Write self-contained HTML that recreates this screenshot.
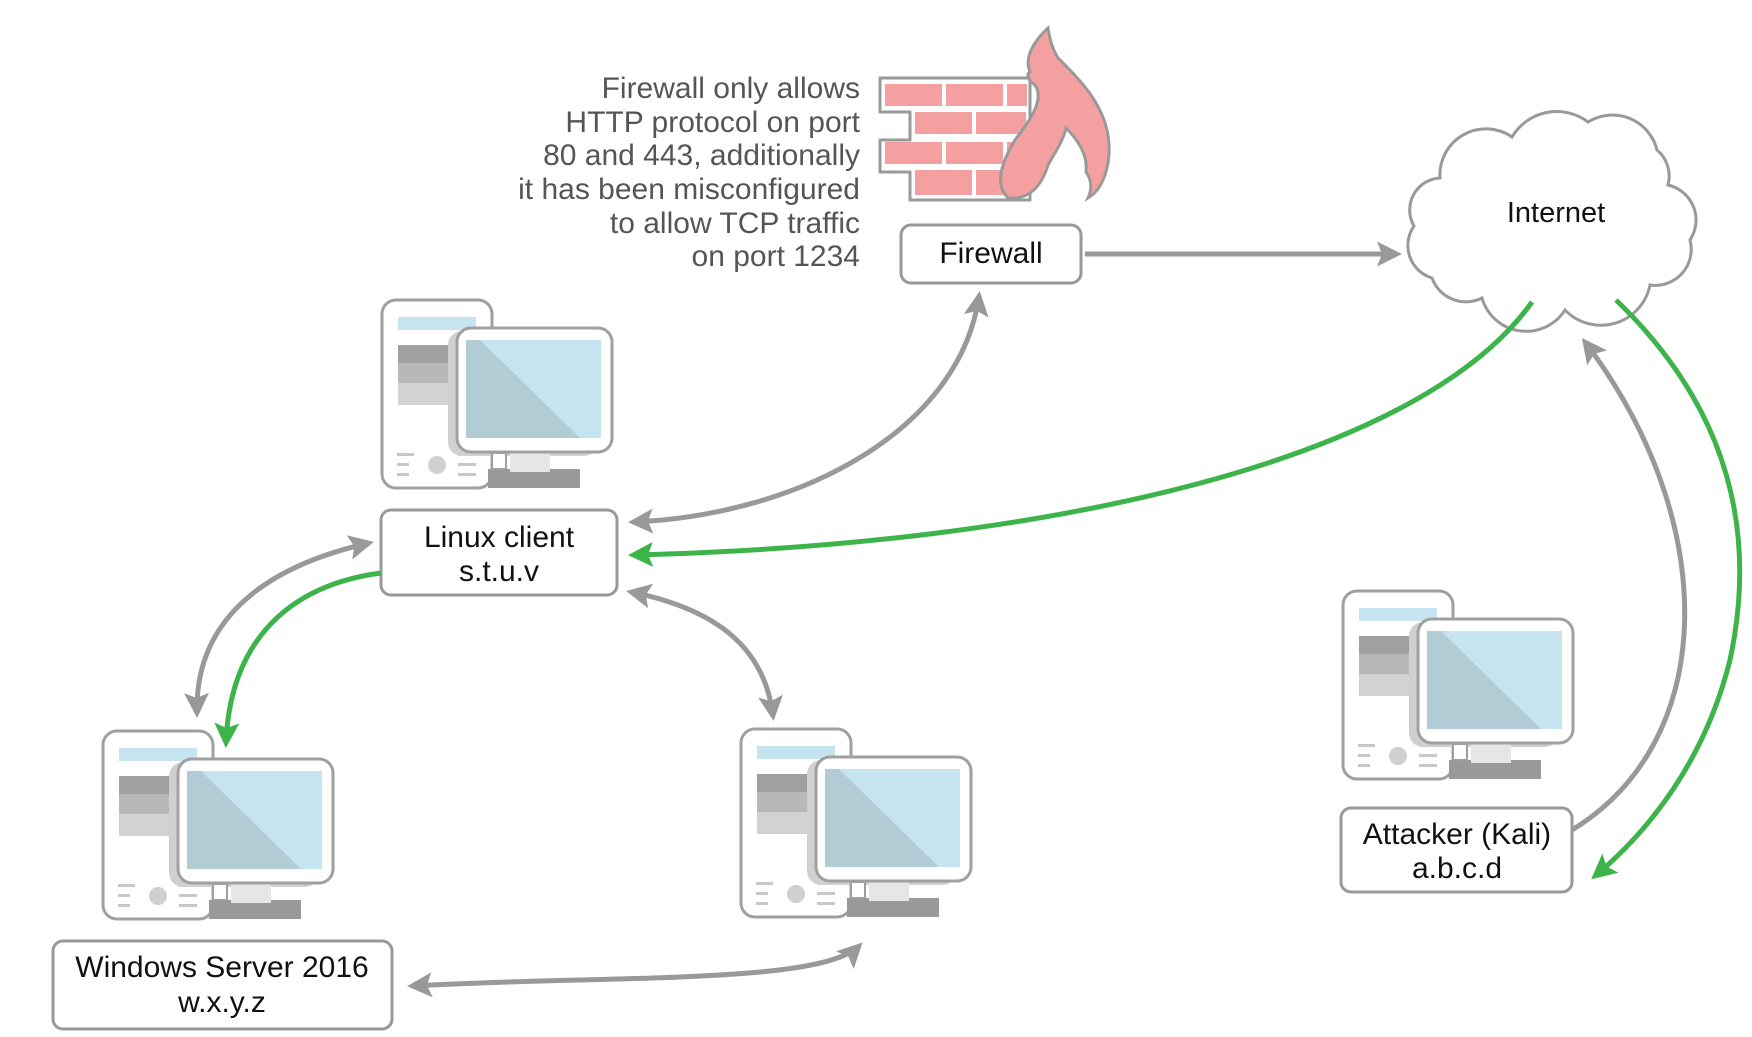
<!DOCTYPE html>
<html><head><meta charset="utf-8"><style>
html,body{margin:0;padding:0;background:#fff}
svg{display:block}
text{font-family:"Liberation Sans",sans-serif}
</style></head><body>
<svg width="1752" height="1037" viewBox="0 0 1752 1037" xmlns="http://www.w3.org/2000/svg">
<defs>
<marker id="ag" viewBox="0 0 10 10" refX="8" refY="5" markerWidth="5" markerHeight="5" orient="auto-start-reverse" markerUnits="strokeWidth"><path d="M0,0 L10,5 L0,10 L2,5 Z" fill="#999"/></marker>
<marker id="agr" viewBox="0 0 10 10" refX="8" refY="5" markerWidth="5" markerHeight="5" orient="auto-start-reverse" markerUnits="strokeWidth"><path d="M0,0 L10,5 L0,10 L2,5 Z" fill="#3cb44a"/></marker>
<g id="pc">
<rect x="2" y="5" width="110" height="188" rx="14" fill="#fff" stroke="#a0a0a0" stroke-width="3"/>
<rect x="18" y="22" width="78" height="13" fill="#c5e4ef"/>
<rect x="18" y="50" width="78" height="18" fill="#a0a0a0"/>
<rect x="18" y="68" width="78" height="20" fill="#b8b8b8"/>
<rect x="18" y="88" width="78" height="22" fill="#d2d2d2"/>
<rect x="17" y="158" width="17" height="3" fill="#c8c8c8"/><rect x="17" y="168" width="12" height="3" fill="#c8c8c8"/><rect x="17" y="178" width="12" height="3" fill="#c8c8c8"/>
<rect x="78" y="158" width="18" height="3" fill="#c8c8c8"/><rect x="78" y="168" width="18" height="3" fill="#c8c8c8"/><rect x="78" y="178" width="18" height="3" fill="#c8c8c8"/>
<circle cx="57" cy="170" r="9" fill="#d0d0d0"/>
<rect x="68" y="36" width="150" height="125" rx="14" fill="#d0d0d0"/>
<rect x="108" y="174" width="92" height="19" fill="#999"/>
<rect x="130" y="155" width="40" height="22" fill="#e6e6e6"/>
<rect x="112" y="158" width="14" height="16" fill="#fff" stroke="#a0a0a0" stroke-width="2"/>
<rect x="77" y="33" width="155" height="124" rx="14" fill="#fff" stroke="#a0a0a0" stroke-width="3"/>
<rect x="86" y="45" width="135" height="98" fill="#c5e4ef"/>
<polygon points="86,45 100,45 200,143 86,143" fill="#b2ccd6"/>
</g>
</defs>

<!-- firewall icon -->
<path d="M880,78 H1030 V200 H910 V172 H880 V140 H910 V112 H880 Z" fill="#fff" stroke="#999" stroke-width="3" stroke-linejoin="round"/>
<g fill="#f4a0a0">
<rect x="885" y="84" width="57" height="22"/><rect x="946" y="84" width="57" height="22"/><rect x="1007" y="84" width="20" height="22"/>
<rect x="915" y="112" width="57" height="22"/><rect x="976" y="112" width="50" height="22"/>
<rect x="885" y="142" width="57" height="22"/><rect x="946" y="142" width="57" height="22"/><rect x="1007" y="142" width="20" height="22"/>
<rect x="915" y="170" width="57" height="25"/><rect x="976" y="170" width="50" height="25"/>
</g>
<path d="M1048,28 C1030,45 1025,60 1030,72 C1025,75 1030,82 1035,85 C1045,100 1030,120 1015,140 C1000,165 995,185 1008,198 C1030,200 1042,185 1048,165 C1058,148 1064,138 1066,128 C1078,140 1088,155 1086,172 C1092,180 1092,190 1088,198 C1105,188 1112,160 1108,135 C1102,100 1075,75 1058,58 C1052,48 1050,40 1048,28 Z" fill="#f4a0a0" stroke="#999" stroke-width="3"/>

<g font-size="30" fill="#555" text-anchor="end">
<text x="860" y="98">Firewall only allows</text>
<text x="860" y="132">HTTP protocol on port</text>
<text x="860" y="165">80 and 443, additionally</text>
<text x="860" y="199">it has been misconfigured</text>
<text x="860" y="233">to allow TCP traffic</text>
<text x="860" y="266">on port 1234</text>
</g>

<rect x="901" y="225" width="180" height="58" rx="10" fill="#fff" stroke="#999" stroke-width="3"/>
<text x="991" y="263" font-size="30" fill="#111" text-anchor="middle">Firewall</text>

<!-- cloud -->
<path d="M1432,278 A34,34 0 0 1 1414,226 A32,32 0 0 1 1440,178 A46,46 0 0 1 1512,137 A52,52 0 0 1 1588,122 A46,46 0 0 1 1657,150 A34,34 0 0 1 1668,185 A36,36 0 0 1 1690,240 A36,36 0 0 1 1650,285 A50,50 0 0 1 1565,310 A46,46 0 0 1 1482,298 A36,36 0 0 1 1432,278 Z" fill="#fff" stroke="#999" stroke-width="3"/>
<text x="1556" y="222" font-size="29" fill="#111" text-anchor="middle">Internet</text>

<!-- computers -->
<use href="#pc" x="380" y="295"/>
<use href="#pc" x="101" y="726"/>
<use href="#pc" x="739" y="724"/>
<use href="#pc" x="1341" y="586"/>

<rect x="381" y="510" width="236" height="85" rx="10" fill="#fff" stroke="#999" stroke-width="3"/>
<text x="499" y="547" font-size="30" fill="#111" text-anchor="middle">Linux client</text>
<text x="499" y="581" font-size="30" fill="#111" text-anchor="middle">s.t.u.v</text>

<rect x="53" y="941" width="339" height="88" rx="10" fill="#fff" stroke="#999" stroke-width="3"/>
<text x="222" y="977" font-size="30" fill="#111" text-anchor="middle">Windows Server 2016</text>
<text x="222" y="1012" font-size="30" fill="#111" text-anchor="middle">w.x.y.z</text>

<rect x="1341" y="808" width="231" height="84" rx="10" fill="#fff" stroke="#999" stroke-width="3"/>
<text x="1457" y="844" font-size="30" fill="#111" text-anchor="middle">Attacker (Kali)</text>
<text x="1457" y="878" font-size="30" fill="#111" text-anchor="middle">a.b.c.d</text>

<!-- connectors -->
<g fill="none" stroke-width="5">
<path d="M1085,254 H1397" stroke="#999" marker-end="url(#ag)"/>
<path d="M979,296 C960,430 800,515 633,522" stroke="#999" marker-start="url(#ag)" marker-end="url(#ag)"/>
<path d="M1532,302 C1420,460 1050,545 633,555" stroke="#3cb44a" marker-end="url(#agr)"/>
<path d="M369,543 C250,570 195,630 197,713" stroke="#999" marker-start="url(#ag)" marker-end="url(#ag)"/>
<path d="M381,573 C290,585 230,640 226,743" stroke="#3cb44a" marker-end="url(#agr)"/>
<path d="M631,592 C720,610 765,650 773,716" stroke="#999" marker-start="url(#ag)" marker-end="url(#ag)"/>
<path d="M412,986 C600,975 820,985 859,946" stroke="#999" marker-start="url(#ag)" marker-end="url(#ag)"/>
<path d="M1572,830 C1720,740 1720,520 1585,342" stroke="#999" marker-end="url(#ag)"/>
<path d="M1616,300 C1720,400 1760,520 1730,660 C1705,760 1650,830 1595,876" stroke="#3cb44a" marker-end="url(#agr)"/>
</g>
</svg>
</body></html>
